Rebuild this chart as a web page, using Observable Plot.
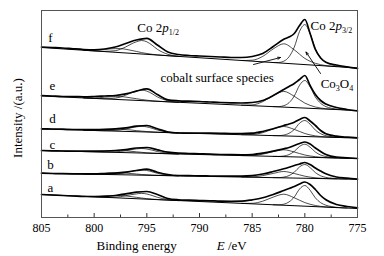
<!DOCTYPE html>
<html><head><meta charset="utf-8">
<script src="https://cdn.jsdelivr.net/npm/d3@7"></script>
<script src="https://cdn.jsdelivr.net/npm/@observablehq/plot@0.6"></script>
<style>body{margin:0;background:#fff}svg{display:block}</style>
</head><body><div id="chart"></div>
<script>
// Binding energy grid (eV) of the measured spectra
const energy = [805,804,803,802,801,800,799,798,797,796,795,794,793,792,791,790,789,788,787,786,785,784,783,782,781.5,781,780.5,780,779.5,779,778.5,778,777,776,775];
// measured spectra (intensity, a.u., offset stacked)
const f_data = [170.5,170,169.5,168.7,168,167.7,168.5,170.5,174,177.5,179.2,172.5,165.5,163,162,161.5,161,160.5,160,160,161,164,171,178.2,180.5,184,192,198,184,168,159.5,155.3,152.5,150.7,149.2];
const e_data = [122,121.5,121,121,120.7,121,121.5,122,123.7,126.3,128.7,123,117.7,116.7,116.3,116,115.5,115,114.7,114.5,115,117,122,128,131,134,138,142,132,123,117,113.5,110,108,106.5];
const d_data = [88.7,88.5,88.3,88,88,88,88.2,88.7,89.7,91.3,92,88.7,85.5,84.5,84.3,84.3,84.3,84.2,84,84,84.3,86,88.7,92,93.5,95.3,98,100,96.5,92,87,83.7,81.3,80.3,79.7];
const c_data = [67,66.7,66.5,66.3,66.3,66.3,66.5,67,68,69.5,70,67.7,65.3,64.3,64,63.7,63.4,63,62.8,62.7,63,64.3,66.3,68.7,70,72,74,75.5,73.5,69.5,66,63,60.3,59.7,59];
const b_data = [44.3,44,43.8,43.7,43.7,43.7,44,44.3,45.3,47,48.3,45.3,43,42,41.8,41.7,41.5,41.3,41.3,41.3,41.8,43.5,46,48.7,50.3,52,53.5,55,53,49.5,46.5,43.7,40.5,39.3,38.3];
const a_data = [23,22.5,22,21.5,21,21,21.2,22,23.7,25.3,26,23,19,17.7,17.3,17,16.7,16.3,16.2,16.3,17.7,19.7,23,27,29,31,33.5,35.5,33,28,22,17.7,13,11,9.7];
// Shirley/linear backgrounds (end points)
const baseE = [805, 775];
const f_base = [170, 149.5];
const e_base = [121.5, 107];
const d_base = [88.5, 79.5];
const c_base = [67, 59];
const b_base = [44.3, 38.3];
const a_base = [23, 9];
// fitted components: Co3O4 2p3/2
const g32m = [783,782.5,782,781.5,781,780.5,780,779.5,779,778.5,778,777.5,777,776];
const f_m32 = [155,155,156.3,160.7,170.4,186.1,192.9,183.8,169,159.9,155.2,152.8,151.5,150.2];
const e_m32 = [110.9,110.9,111.8,114.8,121.5,132.3,137,130.7,120.5,114.2,110.9,109.3,108.4,107.5];
const d_m32 = [81.9,81.9,82.4,84.2,88,94.3,97,93.3,87.4,83.8,81.8,80.9,80.3,79.8];
const c_m32 = [61.1,61.1,61.5,62.9,66.1,71.1,73.3,70.3,65.5,62.5,61,60.2,59.7,59.3];
const b_m32 = [39.9,39.9,40.4,41.9,45.3,50.6,53,49.9,44.9,41.7,40.1,39.4,38.9,38.5];
const a_m32 = [12.7,12.7,13.3,15.6,20.5,28.5,32,27.3,19.6,14.8,12.3,11,10.2,9.5];
// cobalt surface species 2p3/2
const g32s = [786,785,784,783,782,781,780,779,778,777];
const f_s32 = [157,157.3,161.1,168.6,173.7,167.6,159.1,154.2,151.9,150.9];
const e_s32 = [112.3,112.6,115.8,121.9,126.1,121.2,114.4,110.5,108.8,108];
const d_s32 = [82.8,83,84.8,88.5,91,88.1,84,81.6,80.6,80.1];
const c_s32 = [61.9,62,63.3,65.9,67.7,65.5,62.5,60.8,59.9,59.5];
const b_s32 = [40.5,40.6,41.9,44.1,46,44,41.3,39.7,39,38.7];
const a_s32 = [14.1,14.2,16.3,20.4,23.3,19.7,14.9,12,10.6,9.9];
// 2p1/2 components
const g12 = [801,800,799,798,797.5,797,796.5,796,795.5,795,794.5,794,793,792];
const f_m12 = [167.3,166.6,166.2,166.8,168.3,170.6,173.4,175.7,177,175.7,172.3,168.2,163.2,161.1];
const e_m12 = [119.6,119.1,118.8,119.4,120.5,122.4,124.5,126.4,127.4,126.4,123.8,120.6,116.8,115.2];
const d_m12 = [87.3,87,86.8,87.1,87.6,88.6,89.7,90.6,91.2,90.6,89.2,87.5,85.5,84.6];
const c_m12 = [65.9,65.7,65.5,65.7,66.1,66.9,67.8,68.6,69,68.5,67.4,66,64.3,63.5];
const b_m12 = [43.5,43.3,43.2,43.5,44.1,44.9,46,46.9,47.4,47,45.7,44.2,42.4,41.7];
const a_m12 = [21.1,20.7,20.3,20.4,20.9,21.8,22.8,23.6,24.1,23.5,22,20.2,18,16.9];
const f_s12 = [167.4,167.2,168.1,168.9,168.9,168.2,167.2,166.1,164.9,164,163.2,162.6,161.8,161.1];
const e_s12 = [119.7,119.5,120.3,120.9,120.9,120.4,119.6,118.8,118,117.3,116.7,116.3,115.7,115.2];
const d_s12 = [87.4,87.3,87.8,88.2,88.3,87.9,87.5,86.9,86.4,85.9,85.6,85.3,84.9,84.6];
const c_s12 = [66,66,66.5,67,67,66.7,66.2,65.7,65.2,64.7,64.4,64.2,63.8,63.5];
const b_s12 = [43.6,43.6,44.1,44.6,44.6,44.4,44,43.5,43,42.7,42.4,42.2,41.9,41.7];
const a_s12 = [21.2,21,21.6,22,22,21.6,20.9,20.2,19.5,18.8,18.4,18,17.4,16.9];
// axis ticks
const majorTicks = [805,800,795,790,785,780,775];
const minorTicks = [802.5,797.5,792.5,787.5,782.5,777.5];
// labels
const curveLabels = ["f","e","d","c","b","a"];
const labelE = [804.15,803.96,803.96,803.96,804.15,804.15];
const labelI = [180,132,99,73,53,30];
const notes = [
  {E:795.9, I:190, t:"Co 2p1/2"},
  {E:779.46, I:192, t:"Co 2p3/2"},
  {E:793.7, I:140, t:"cobalt surface species"},
  {E:778.5, I:134, t:"Co3O4"}
];
const arrows = [
  {x1:784.87, y1:153, x2:782.31, y2:160},
  {x1:778.51, y1:144, x2:779.89, y2:165.5}
];

const spectra = [
  {k:"f", data:f_data, base:f_base, m32:f_m32, s32:f_s32, m12:f_m12, s12:f_s12},
  {k:"e", data:e_data, base:e_base, m32:e_m32, s32:e_s32, m12:e_m12, s12:e_s12},
  {k:"d", data:d_data, base:d_base, m32:d_m32, s32:d_s32, m12:d_m12, s12:d_s12},
  {k:"c", data:c_data, base:c_base, m32:c_m32, s32:c_s32, m12:c_m12, s12:c_s12},
  {k:"b", data:b_data, base:b_base, m32:b_m32, s32:b_s32, m12:b_m12, s12:b_s12},
  {k:"a", data:a_data, base:a_base, m32:a_m32, s32:a_s32, m12:a_m12, s12:a_s12}
];
const dataRows = spectra.flatMap(s => energy.map((E,i)=>({E, I:s.data[i], k:s.k})));
const baseRows = spectra.flatMap(s => baseE.map((E,i)=>({E, I:s.base[i], k:s.k})));
const compRows = spectra.flatMap(s => [
  ...g32m.map((E,i)=>({E, I:s.m32[i], k:s.k+"m32"})),
  ...g32s.map((E,i)=>({E, I:s.s32[i], k:s.k+"s32"})),
  ...g12.map((E,i)=>({E, I:s.m12[i], k:s.k+"m12"})),
  ...g12.map((E,i)=>({E, I:s.s12[i], k:s.k+"s12"}))
]);
const labelRows = curveLabels.map((t,i)=>({t, E:labelE[i], I:labelI[i]}));

const serif = "'Liberation Serif','Times New Roman',serif";
const chart = Plot.plot({
  width:384, height:256, marginLeft:41, marginRight:27, marginTop:10, marginBottom:39,
  x:{domain:[805,775]},
  y:{domain:[0,207], axis:null},
  style:{fontFamily:serif, fontSize:"12px", background:"#fff", color:"#000"},
  marks:[
    Plot.line(baseRows,{x:"E", y:"I", z:"k", stroke:"#000", strokeWidth:1.1}),
    Plot.line(compRows,{x:"E", y:"I", z:"k", stroke:"#000", strokeWidth:0.7, curve:"monotone-x"}),
    Plot.line(dataRows,{x:"E", y:"I", z:"k", stroke:"#000", strokeWidth:1.7, curve:"monotone-x"}),
    Plot.ruleX(majorTicks,{x:d=>d, y1:0, y2:4, stroke:"#000", strokeWidth:0.8}),
    Plot.ruleX(minorTicks,{x:d=>d, y1:0, y2:2.5, stroke:"#000", strokeWidth:0.8}),
    Plot.axisX(majorTicks,{tickSize:0, tickPadding:6, fontSize:12, tickFormat:d=>String(d), label:null}),
    Plot.text(labelRows,{x:"E", y:"I", text:"t", fontSize:13, textAnchor:"middle"}),
    Plot.text(notes,{x:"E", y:"I", text:"t", fontSize:13, textAnchor:"start"}),
    Plot.arrow(arrows,{x1:"x1", y1:"y1", x2:"x2", y2:"y2", stroke:"#000", strokeWidth:0.9, headLength:5, headAngle:40}),
    Plot.frame({stroke:"#555"})
  ]
});
document.getElementById("chart").appendChild(chart);

const rich = {
  "Co 2p1/2": 'Co 2<tspan font-style="italic">p</tspan><tspan font-size="8" dy="3">1/2</tspan>',
  "Co 2p3/2": 'Co 2<tspan font-style="italic">p</tspan><tspan font-size="8" dy="3">3/2</tspan>',
  "Co3O4": 'Co<tspan font-size="8" dy="3">3</tspan><tspan dy="-3">O</tspan><tspan font-size="8" dy="3">4</tspan>'
};
d3.select(chart).selectAll("text").each(function(){
  const t = this.textContent;
  if (rich[t]) {
    const child = this.firstElementChild;
    if (child && child.getAttribute("dy") && !this.getAttribute("dy")) this.setAttribute("dy", child.getAttribute("dy"));
    this.innerHTML = rich[t];
  }
});
const svg = d3.select(chart);
svg.append("text").attr("x",136.7).attr("y",250).attr("font-size",13).attr("font-family",serif).text("Binding energy");
svg.append("text").attr("x",231.7).attr("y",250).attr("font-size",13).attr("font-family",serif)
  .html('<tspan font-style="italic">E</tspan> /eV');
svg.append("text").attr("transform","translate(22,118) rotate(-90)").attr("text-anchor","middle")
  .attr("font-size",13).attr("font-family",serif).text("Intensity /(a.u.)");
</script></body></html>
